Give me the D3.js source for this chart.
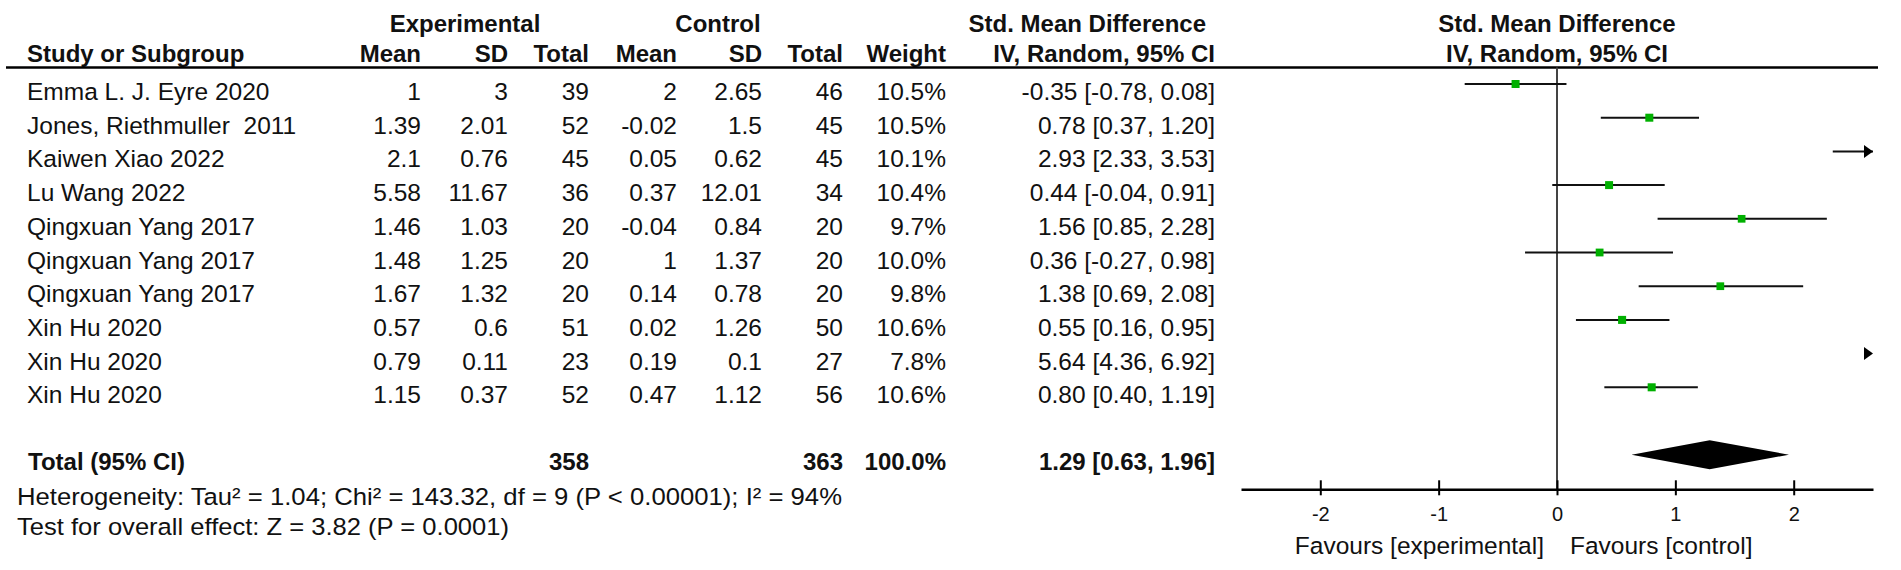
<!DOCTYPE html>
<html><head><meta charset="utf-8">
<script src="https://cdn.jsdelivr.net/npm/d3@7"></script>
<style>
html,body{margin:0;padding:0;background:#fff;}
svg text{font-family:"Liberation Sans",Arial,Helvetica,sans-serif;fill:#111;white-space:pre;}
</style></head>
<body><svg id="c" width="1901" height="570"></svg>
<script>
// ---- data ----
const studies = ["Emma L. J. Eyre 2020","Jones, Riethmuller  2011","Kaiwen Xiao 2022","Lu Wang 2022","Qingxuan Yang 2017","Qingxuan Yang 2017","Qingxuan Yang 2017","Xin Hu 2020","Xin Hu 2020","Xin Hu 2020"];
const expMean = [1,1.39,2.1,5.58,1.46,1.48,1.67,0.57,0.79,1.15];
const expSD   = [3,2.01,0.76,11.67,1.03,1.25,1.32,0.6,0.11,0.37];
const expN    = [39,52,45,36,20,20,20,51,23,52];
const ctlMean = [2,-0.02,0.05,0.37,-0.04,1,0.14,0.02,0.19,0.47];
const ctlSD   = [2.65,1.5,0.62,12.01,0.84,1.37,0.78,1.26,0.1,1.12];
const ctlN    = [46,45,45,34,20,20,20,50,27,56];
const weights = [10.5,10.5,10.1,10.4,9.7,10.0,9.8,10.6,7.8,10.6];
const smd     = [-0.35,0.78,2.93,0.44,1.56,0.36,1.38,0.55,5.64,0.80];
const ciLow   = [-0.78,0.37,2.33,-0.04,0.85,-0.27,0.69,0.16,4.36,0.40];
const ciHigh  = [0.08,1.20,3.53,0.91,2.28,0.98,2.08,0.95,6.92,1.19];
const totalExpN = 358, totalCtlN = 363, totalWeight = 100.0;
const totalSmd = 1.29, totalLow = 0.63, totalHigh = 1.96;
const heterogeneityText = "Heterogeneity: Tau\u00B2 = 1.04; Chi\u00B2 = 143.32, df = 9 (P < 0.00001); I\u00B2 = 94%";
const overallText = "Test for overall effect: Z = 3.82 (P = 0.0001)";
const tickValues = [-2,-1,0,1,2];
const favoursLeft = "Favours [experimental]", favoursRight = "Favours [control]";

// ---- layout ----
const svg = d3.select("#c");
const FS = 24.5, FSB = 24;
const loc = d3.formatLocale({decimal:".", thousands:",", grouping:[3], currency:["",""], minus:"-"});
const f2 = loc.format(".2f"), f1 = loc.format(".1f"), fd = loc.format("d");
const markY = i => 84 + 33.7*i;
const textY = i => markY(i) + 16;
const x = d3.scaleLinear().domain([-2.67, 2.67]).range([1241, 1873]);
const axisY = 489.3;

function txt(s, xx, yy, anchor, bold, size){
  return svg.append("text").attr("x", xx).attr("y", yy)
    .attr("text-anchor", anchor||"start")
    .attr("font-weight", bold ? "bold" : "normal")
    .attr("font-size", size || (bold ? FSB : FS)).text(s);
}

// headers
txt("Experimental", 465, 32, "middle", true);
txt("Control", 718, 32, "middle", true);
txt("Std. Mean Difference", 1206, 32, "end", true);
txt("Std. Mean Difference", 1557, 32, "middle", true);
const cols = [
  {h:"Study or Subgroup", x:27, a:"start"},
  {h:"Mean", x:421, a:"end"},
  {h:"SD", x:508, a:"end"},
  {h:"Total", x:589, a:"end"},
  {h:"Mean", x:677, a:"end"},
  {h:"SD", x:762, a:"end"},
  {h:"Total", x:843, a:"end"},
  {h:"Weight", x:946, a:"end"},
  {h:"IV, Random, 95% CI", x:1215, a:"end"}
];
cols.forEach(c => txt(c.h, c.x, 62, c.a, true));
txt("IV, Random, 95% CI", 1557, 62, "middle", true);

svg.append("line").attr("x1",6).attr("x2",1878).attr("y1",67.5).attr("y2",67.5)
  .attr("stroke","#000").attr("stroke-width",2.5);

// study rows
studies.forEach((s,i) => {
  const vals = [s, String(expMean[i]), String(expSD[i]), String(expN[i]),
    String(ctlMean[i]), String(ctlSD[i]), String(ctlN[i]), f1(weights[i])+"%",
    `${f2(smd[i])} [${f2(ciLow[i])}, ${f2(ciHigh[i])}]`];
  vals.forEach((v,j) => txt(v, cols[j].x, textY(i), cols[j].a, false));
});

// total rows
const ti = 11;
txt("Total (95% CI)", 28, textY(ti)-1, "start", true);
txt(String(totalExpN), cols[3].x, textY(ti)-1, "end", true);
txt(String(totalCtlN), cols[6].x, textY(ti)-1, "end", true);
txt(f1(totalWeight)+"%", cols[7].x, textY(ti)-1, "end", true);
txt(`${f2(totalSmd)} [${f2(totalLow)}, ${f2(totalHigh)}]`, cols[8].x, textY(ti)-1, "end", true);
txt(heterogeneityText, 17, 505, "start", false).attr("textLength", 825).attr("lengthAdjust","spacingAndGlyphs");
txt(overallText, 17, 535, "start", false).attr("textLength", 492).attr("lengthAdjust","spacingAndGlyphs");

// plot: zero line
svg.append("line").attr("x1", x(0)).attr("x2", x(0)).attr("y1", 67.5).attr("y2", axisY)
  .attr("stroke","#444").attr("stroke-width",2);

// CI lines, squares, arrows
const [dmin, dmax] = x.domain();
const g = svg.append("g");
studies.forEach((s,i) => {
  const y = markY(i);
  const l = Math.max(ciLow[i], dmin), h = Math.min(ciHigh[i], dmax);
  if (l < h) {
    g.append("line").attr("x1", x(l)).attr("x2", x(h)).attr("y1", y).attr("y2", y)
      .attr("stroke","#111").attr("stroke-width",2);
  }
  if (ciHigh[i] > dmax) {
    const tip = x(dmax);
    g.append("path").attr("d", `M${tip},${y} L${tip-9},${y-6.5} L${tip-9},${y+6.5} Z`).attr("fill","#000");
  }
  if (ciLow[i] < dmin) {
    const tip = x(dmin);
    g.append("path").attr("d", `M${tip},${y} L${tip+9},${y-6.5} L${tip+9},${y+6.5} Z`).attr("fill","#000");
  }
  if (smd[i] >= dmin && smd[i] <= dmax) {
    const sz = 8*Math.sqrt(weights[i]/10.5);
    g.append("rect").attr("x", x(smd[i]) - sz/2).attr("y", y - sz/2)
      .attr("width", sz).attr("height", sz).attr("fill","#00b000");
  }
});

// diamond
const dy = markY(ti);
svg.append("path")
  .attr("d", `M${x(totalLow)},${dy} L${x(totalSmd)},${dy-14.5} L${x(totalHigh)},${dy} L${x(totalSmd)},${dy+14.5} Z`)
  .attr("fill","#000");

// axis
const ax = svg.append("g").attr("transform", `translate(0,${axisY})`)
  .call(d3.axisBottom(x).tickValues(tickValues).tickSizeOuter(0).tickFormat(fd));
ax.select(".domain").attr("stroke","#000").attr("stroke-width",2.5);
ax.selectAll(".tick line").attr("y1",-9).attr("y2",6).attr("stroke","#000").attr("stroke-width",2);
ax.selectAll(".tick text").attr("y",32).attr("dy",0).attr("font-size",20)
  .attr("font-family","'Liberation Sans',Arial,sans-serif").attr("fill","#111");

txt(favoursLeft, 1544, 554, "end", false, 24.5);
txt(favoursRight, 1570, 554, "start", false, 24.5);
</script></body></html>
